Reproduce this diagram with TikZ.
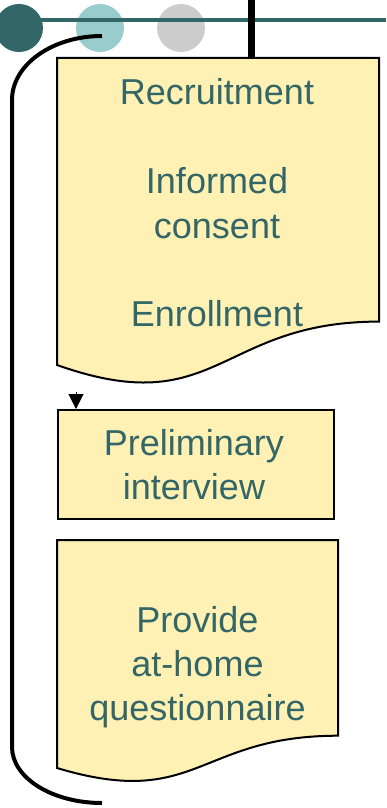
\documentclass[tikz,border=0pt]{standalone}
\usepackage{fontspec}
\setmainfont{Liberation Sans}
\usetikzlibrary{arrows.meta}
\definecolor{teal1}{HTML}{336666}
\definecolor{lteal}{HTML}{99CCCC}
\definecolor{lgray}{HTML}{CCCCCC}
\definecolor{paper}{HTML}{FFF0B4}
\tikzset{
  txt/.style={anchor=base, text=teal1, inner sep=0pt, font=\fontsize{36}{44}\selectfont},
  docshape/.style={draw=black, line width=2pt, fill=paper, line join=miter},
  dot/.style={circle, minimum size=48pt, inner sep=0pt, draw=none},
}
\begin{document}
\begin{tikzpicture}[x=1pt,y=-1pt]
\useasboundingbox (0,0) rectangle (386,808);
% header dots and rules
\node[dot, fill=teal1] (d1) at (19,28) {};
\node[dot, fill=lteal] (d2) at (100,28) {};
\node[dot, fill=lgray] (d3) at (181,28) {};
\draw[teal1, line width=4pt] (40,20) -- (386,20);
\draw[black, line width=7pt] (251,0) -- (251,58);
% bracket
\draw[black, line width=4pt, line cap=butt]
  (102,36) .. controls (52.3,36) and (12,64.7) .. (12,100)
  -- (12,747) .. controls (12,777.9) and (52.3,803) .. (102,803);
% document 1
\draw[docshape] (57,58) -- (379,58) -- (379,321.6)
  .. controls (218,321.6) and (218,422) .. (57,365) -- cycle;
\node[txt] (t1) at (217,104) {Recruitment};
\node[txt] (t2) at (217,193) {Informed};
\node[txt] (t3) at (217,238) {consent};
\node[txt] (t4) at (217,326) {Enrollment};
% box 2
\node[draw=black, line width=2pt, fill=paper, minimum width=276pt, minimum height=109pt, inner sep=0pt, anchor=north west] (b2) at (57,409) {};
\node[txt] (t5) at (194,455) {Preliminary};
\node[txt] (t6) at (194,499) {interview};
% arrow
\coordinate (a0) at (76,392);
\draw[-{Triangle[width=15pt,length=15pt]}, line width=1pt] (a0) -- ([xshift=19pt]b2.north west);
% document 3
\draw[docshape] (57,540) -- (338,540) -- (338,735.7)
  .. controls (197.5,735.7) and (197.5,810.2) .. (57,768) -- cycle;
\node[txt] (t7) at (197.5,632) {Provide};
\node[txt] (t8) at (197.5,676) {at-home};
\node[txt] (t9) at (197.5,720) {questionnaire};
\end{tikzpicture}
\end{document}
